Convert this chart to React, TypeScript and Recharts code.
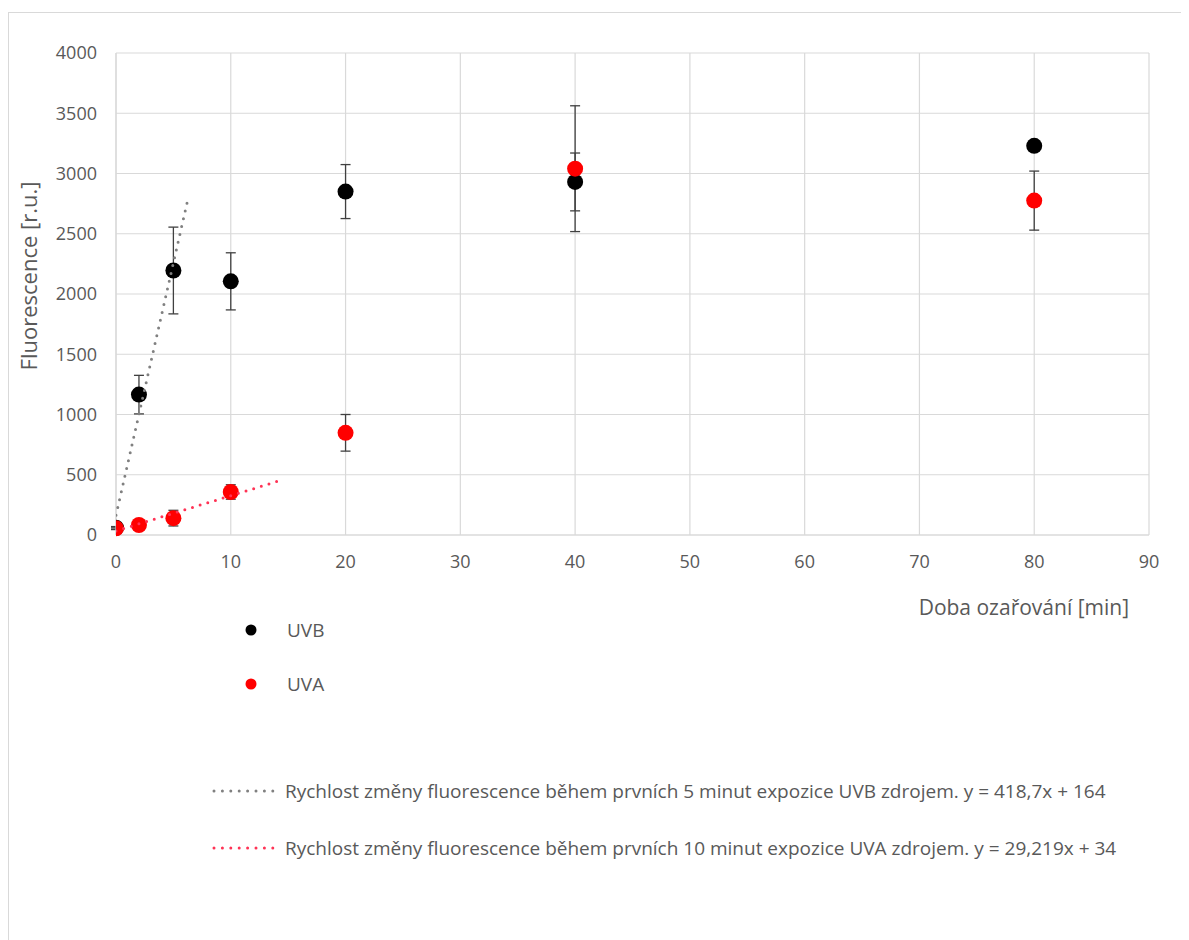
import React from 'react';
import { ScatterChart, Scatter, XAxis, YAxis, CartesianGrid, ErrorBar } from 'recharts';

const xTicks = [0, 10, 20, 30, 40, 50, 60, 70, 80, 90];
const yTicks = [0, 500, 1000, 1500, 2000, 2500, 3000, 3500, 4000];

const times = [0, 2, 5, 10, 20, 40, 80];
const uvbValues = [60, 1165, 2195, 2105, 2850, 2930, 3230];
const uvbErrors = [10, 160, 360, 237, 224, 240, 30];
const uvaValues = [55, 83, 140, 357, 848, 3040, 2775];
const uvaErrors = [10, 20, 65, 60, 152, 522, 245];

const uvbTrendX = [0, 6.3];
const uvbTrendY = [164, 2802];
const uvaTrendX = [0, 14.6];
const uvaTrendY = [34, 461];

const seriesNames = ['UVB', 'UVA'];
const trendNames = [
  'Rychlost změny fluorescence během prvních 5 minut expozice UVB zdrojem. y = 418,7x + 164',
  'Rychlost změny fluorescence během prvních 10 minut expozice UVA zdrojem. y = 29,219x + 34',
];

const uvbData = times.map((x, i) => ({ x, y: uvbValues[i], err: uvbErrors[i] }));
const uvaData = times.map((x, i) => ({ x, y: uvaValues[i], err: uvaErrors[i] }));
const uvbTrend = uvbTrendX.map((x, i) => ({ x, y: uvbTrendY[i] }));
const uvaTrend = uvaTrendX.map((x, i) => ({ x, y: uvaTrendY[i] }));

const FONT = '"Open Sans", sans-serif';
const TEXT = '#595959';
const GRID = '#d9d9d9';
const TREND_GRAY = '#808080';
const TREND_RED = '#ff3355';

const dot = (color: string) => (props: any) => (
  <circle cx={props.cx} cy={props.cy} r={8} fill={color} />
);
const noDot = () => <g />;

const tick = { fill: TEXT, fontSize: 18, fontFamily: FONT };

export default function App() {
  return (
    <div style={{ position: 'relative', width: 1181, height: 932, overflow: 'hidden', fontFamily: FONT, color: TEXT }}>
      <div style={{ position: 'absolute', left: 0, top: 4, width: 1300, height: 1000, border: `1px solid ${GRID}`, boxSizing: 'border-box' }} />
      <div style={{ position: 'absolute', left: 0, top: 0 }}>
        <ScatterChart width={1181} height={932} margin={{ top: 45, right: 40, left: 0, bottom: 375 }}>
          <CartesianGrid stroke={GRID} strokeWidth={1.2} />
          <XAxis
            type="number"
            dataKey="x"
            domain={[0, 90]}
            ticks={xTicks}
            tick={tick}
            tickLine={false}
            tickSize={0}
            tickMargin={20}
            height={30}
            axisLine={{ stroke: GRID, strokeWidth: 1.2 }}
            allowDataOverflow
          />
          <YAxis
            type="number"
            dataKey="y"
            domain={[0, 4000]}
            ticks={yTicks}
            tick={tick}
            tickLine={false}
            tickSize={0}
            tickMargin={19}
            width={108}
            axisLine={{ stroke: GRID, strokeWidth: 1.2 }}
          />
          <Scatter data={uvbData} shape={dot('#000000')} isAnimationActive={false}>
            <ErrorBar dataKey="err" direction="y" width={5} stroke="#404040" strokeWidth={1.3} />
          </Scatter>
          <Scatter data={uvaData} shape={dot('#ff0000')} isAnimationActive={false}>
            <ErrorBar dataKey="err" direction="y" width={5} stroke="#404040" strokeWidth={1.3} />
          </Scatter>
          <Scatter
            data={uvbTrend}
            shape={noDot}
            line={{ stroke: TREND_GRAY, strokeWidth: 3, strokeDasharray: '0 8', strokeLinecap: 'round' }}
            isAnimationActive={false}
          />
          <Scatter
            data={uvaTrend}
            shape={noDot}
            line={{ stroke: TREND_RED, strokeWidth: 3, strokeDasharray: '0 8', strokeLinecap: 'round' }}
            isAnimationActive={false}
          />
        </ScatterChart>
      </div>

      <div style={{ position: 'absolute', left: 20, top: 268, width: 0, height: 0 }}>
        <div style={{ position: 'absolute', transform: 'translate(-50%, -50%) rotate(-90deg)', whiteSpace: 'nowrap', fontSize: 22 }}>
          Fluorescence [r.u.]
        </div>
      </div>
      <div style={{ position: 'absolute', right: 1181 - 1121, top: 585, whiteSpace: 'nowrap', fontSize: 21, lineHeight: '28px' }}>
        Doba ozařování [min]
      </div>

      {seriesNames.map((name, i) => (
        <div key={name} style={{ position: 'absolute', left: 236, top: 610 + i * 54, height: 24, display: 'flex', alignItems: 'center' }}>
          <svg width={14} height={14} style={{ marginRight: 29 }}>
            <circle cx={7} cy={7} r={5.5} fill={i === 0 ? '#000000' : '#ff0000'} />
          </svg>
          <span style={{ fontSize: 19 }}>{name}</span>
        </div>
      ))}

      {trendNames.map((name, i) => (
        <div key={name} style={{ position: 'absolute', left: 203, top: 769 + i * 57, height: 28, display: 'flex', alignItems: 'center' }}>
          <svg width={72} height={10} style={{ marginRight: 2 }}>
            <line x1={3} y1={5} x2={62} y2={5} stroke={i === 0 ? TREND_GRAY : TREND_RED} strokeWidth={3} strokeDasharray="0 8.4" strokeLinecap="round" />
          </svg>
          <span style={{ fontSize: 19, whiteSpace: 'nowrap' }}>{name}</span>
        </div>
      ))}
    </div>
  );
}
